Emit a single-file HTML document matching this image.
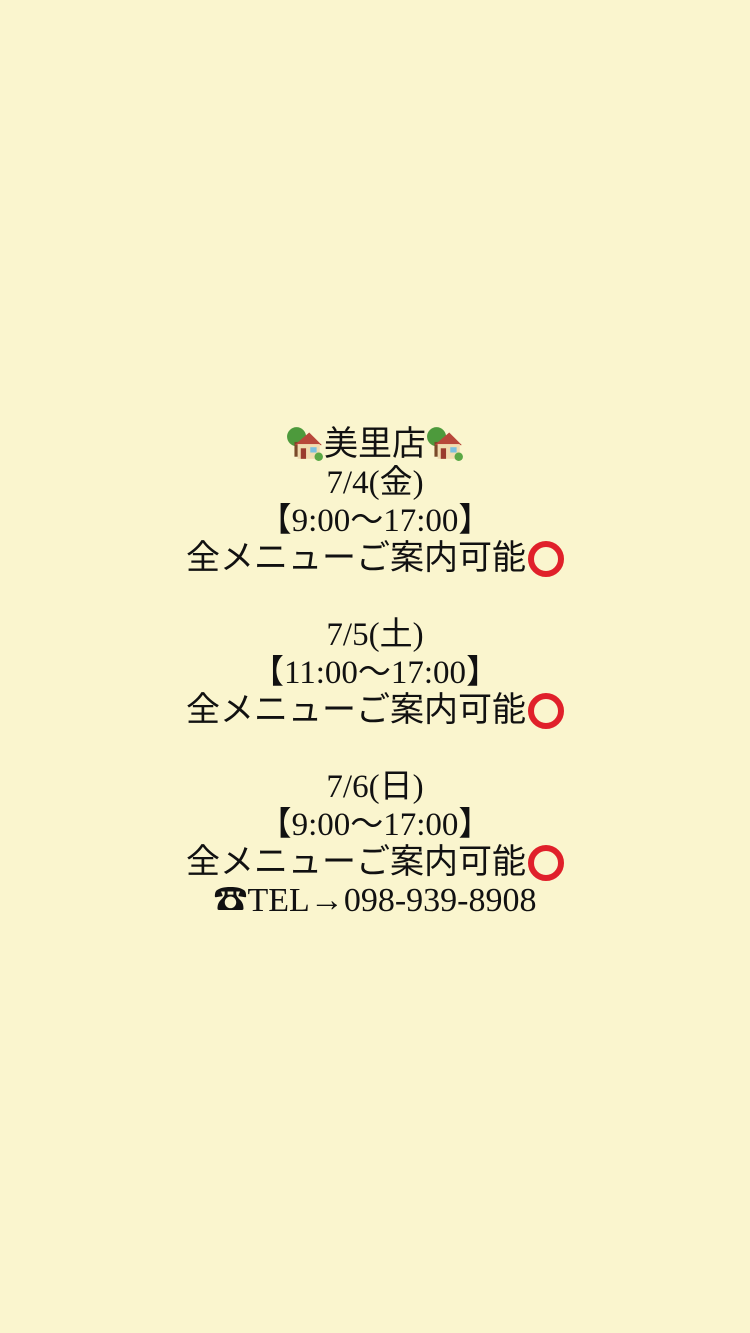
<!DOCTYPE html>
<html><head><meta charset="utf-8"><style>
html,body{margin:0;padding:0}
body{width:750px;height:1333px;background:#FAF5CE;position:relative;overflow:hidden;font-family:"Liberation Serif","Noto Sans CJK JP",serif;color:#111}
.l{position:absolute;left:0;width:750px;text-align:center;font-size:33px;line-height:38px;height:38px;white-space:nowrap}
.j{font-family:"Noto Sans CJK JP",sans-serif;font-weight:400}
.k{font-size:34px}
.o{display:inline-block;width:36px;height:36px;border:6px solid #e0202a;border-radius:50%;box-sizing:border-box;vertical-align:-8px;margin-left:2px}
.h{display:inline-block;width:38px;height:36px;vertical-align:-6px}
</style></head><body>
<div class="l" style="top:422px"><svg class="h" viewBox="0 0 36 34"><circle cx="10" cy="11" r="9" fill="#4d9a3c"/><rect x="8" y="16" width="4" height="14" fill="#7a4a2a"/><polygon points="8,19 22,7 34,19" fill="#b8473a"/><rect x="11" y="18" width="21" height="14" fill="#f0dcb0"/><rect x="14" y="22" width="5" height="10" fill="#9a3b2e"/><rect x="23" y="21" width="6" height="5" fill="#7ac0e0"/><circle cx="31" cy="30" r="4" fill="#5aa845"/></svg><span class="j k">美里店</span><svg class="h" viewBox="0 0 36 34"><circle cx="10" cy="11" r="9" fill="#4d9a3c"/><rect x="8" y="16" width="4" height="14" fill="#7a4a2a"/><polygon points="8,19 22,7 34,19" fill="#b8473a"/><rect x="11" y="18" width="21" height="14" fill="#f0dcb0"/><rect x="14" y="22" width="5" height="10" fill="#9a3b2e"/><rect x="23" y="21" width="6" height="5" fill="#7ac0e0"/><circle cx="31" cy="30" r="4" fill="#5aa845"/></svg></div>
<div class="l" style="top:460px">7/4(<span class="j">金</span>)</div>
<div class="l" style="top:498px"><span class="j">【</span>9:00<span class="j">～</span>17:00<span class="j">】</span></div>
<div class="l" style="top:536px"><span class="j k">全メニューご案内可能</span><span class="o"></span></div>
<div class="l" style="top:612px">7/5(<span class="j">土</span>)</div>
<div class="l" style="top:650px"><span class="j">【</span>11:00<span class="j">～</span>17:00<span class="j">】</span></div>
<div class="l" style="top:688px"><span class="j k">全メニューご案内可能</span><span class="o"></span></div>
<div class="l" style="top:764px">7/6(<span class="j">日</span>)</div>
<div class="l" style="top:802px"><span class="j">【</span>9:00<span class="j">～</span>17:00<span class="j">】</span></div>
<div class="l" style="top:840px"><span class="j k">全メニューご案内可能</span><span class="o"></span></div>
<div class="l" style="top:878px;font-size:34px"><span class="j">☎</span>TEL→098-939-8908</div>
</body></html>
